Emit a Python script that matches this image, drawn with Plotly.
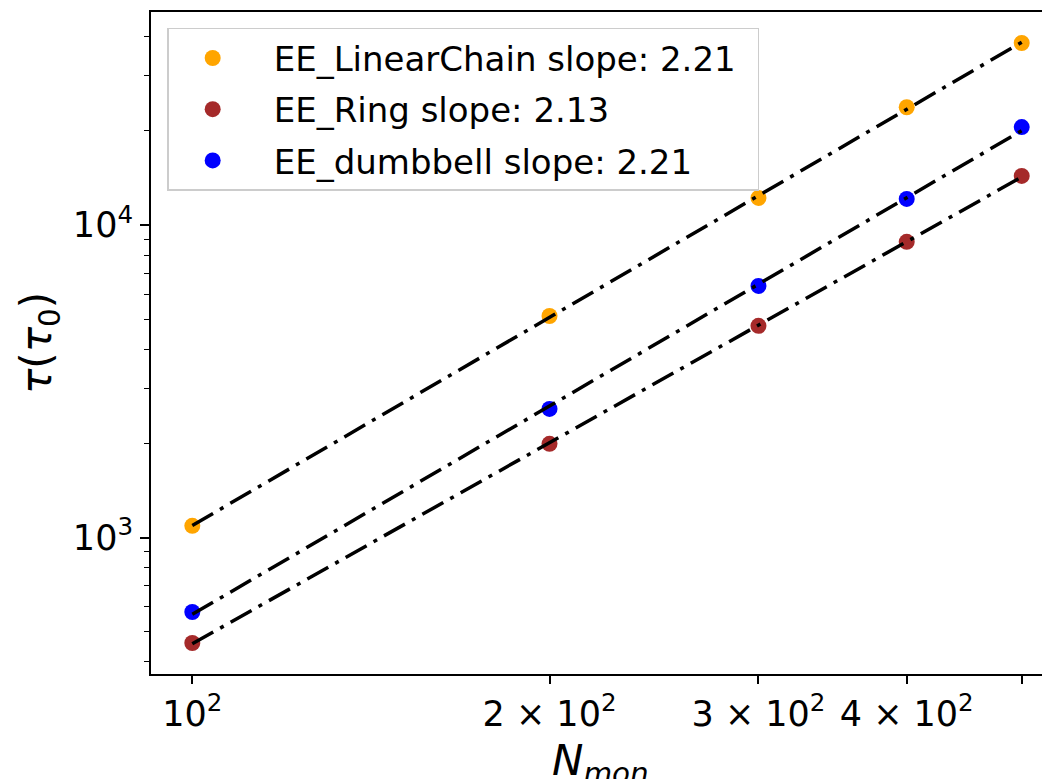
import numpy as np
import plotly.graph_objects as go

# ---- data ----
N_mon = [100, 200, 300, 400, 500]
tau_linear = [1090, 5115, 12200, 23800, 38200]
tau_ring = [460, 1995, 4755, 8830, 14350]
tau_dumbbell = [578, 2580, 6380, 12110, 20560]

series_names = ["EE_LinearChain slope: 2.21", "EE_Ring slope: 2.13", "EE_dumbbell slope: 2.21"]
series_colors = ["#FFA500", "#A52A2A", "#0000FF"]

x_tickvals = [100, 200, 300, 400, 500]
x_ticktext = ["10<sup>2</sup>", "2 × 10<sup>2</sup>", "3 × 10<sup>2</sup>", "4 × 10<sup>2</sup>", ""]
y_tickvals = [1000, 10000]
y_ticktext = ["10<sup>3</sup>", "10<sup>4</sup>"]
y_minor = [m * 10 ** e for e in (2, 3, 4) for m in range(2, 10)]

FONT = "DejaVu Sans"

fig = go.Figure()

all_series = [tau_linear, tau_ring, tau_dumbbell]
for i, (vals, name, col) in enumerate(zip(all_series, series_names, series_colors)):
    fig.add_trace(go.Scatter(
        x=N_mon, y=vals, mode="markers", name="\u2002" + name + "\u2002",
        marker=dict(color=col, size=16, line=dict(width=0)),
        legendgroup=f"g{i}",
    ))

# power-law fits drawn on top
for vals in all_series:
    p = np.polyfit(np.log10(N_mon), np.log10(vals), 1)
    yfit = 10 ** np.polyval(p, np.log10(N_mon))
    fig.add_trace(go.Scatter(
        x=N_mon, y=yfit, mode="lines", showlegend=False,
        line=dict(color="black", width=3.5, dash="24px,8px,4px,8px"),
        hoverinfo="skip",
    ))

# the page body has an 8px margin: size the figure so it ends at the window edge
fig.update_layout(
    width=1042, height=771,
    margin=dict(l=143, r=0, t=4, b=105),
    paper_bgcolor="white", plot_bgcolor="white",
    font=dict(family=FONT, size=35, color="black"),
    showlegend=True,
    legend=dict(
        x=0.018, y=0.976, xanchor="left", yanchor="top",
        bgcolor="rgba(255,255,255,0.8)", bordercolor="#cccccc", borderwidth=1.5,
        font=dict(family=FONT, size=34, color="black"),
        traceorder="grouped", tracegroupgap=4, itemwidth=78,
    ),
    annotations=[
        dict(text="<i>N</i><sub><i>mon</i></sub>", xref="paper", yref="paper",
             x=0.5, y=0, xanchor="center", yanchor="top", yshift=-60,
             showarrow=False, font=dict(family=FONT, size=42, color="black")),
        dict(text="<i>τ</i>(<i>τ</i><sub>0</sub>)", xref="paper", yref="paper",
             x=0, y=0.5, xanchor="center", yanchor="middle", xshift=-112,
             textangle=-90, showarrow=False,
             font=dict(family=FONT, size=42, color="black")),
    ],
)

fig.update_xaxes(
    type="log", range=[1.9652, 2.7228],
    showline=True, linecolor="black", linewidth=2, mirror=True,
    showgrid=False, zeroline=False,
    tickmode="array", tickvals=x_tickvals, ticktext=x_ticktext,
    ticks="outside", ticklen=8, tickwidth=1.5, tickcolor="black",
    tickfont=dict(family=FONT, size=35, color="black"),
)
fig.update_yaxes(
    type="log", range=[np.log10(366), np.log10(48000)],
    showline=True, linecolor="black", linewidth=2, mirror=False,
    showgrid=False, zeroline=False,
    tickmode="array", tickvals=y_tickvals, ticktext=y_ticktext,
    ticks="outside", ticklen=9, tickwidth=1.5, tickcolor="black",
    tickfont=dict(family=FONT, size=35, color="black"),
    minor=dict(tickmode="array", tickvals=y_minor, ticks="outside", ticklen=5,
               tickwidth=1.2, tickcolor="black", showgrid=False),
)

fig.write_html("out.html")
